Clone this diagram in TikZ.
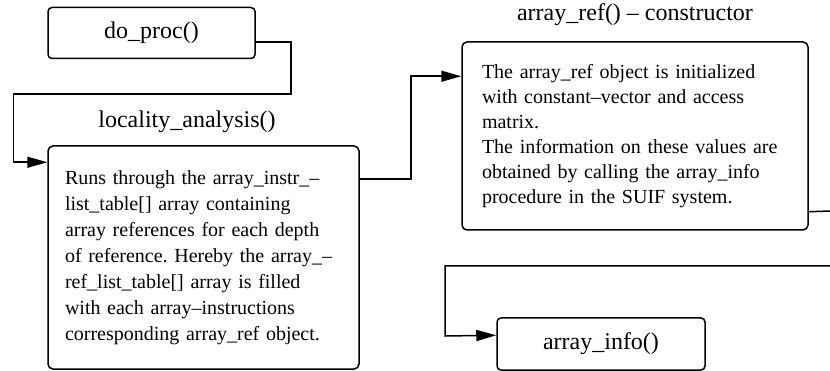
\documentclass[tikz,border=0pt]{standalone}
\usepackage{fontspec}
\setmainfont{Liberation Serif}
\usetikzlibrary{arrows.meta,positioning}
\frenchspacing

\begin{document}
\begin{tikzpicture}[
    x=1pt, y=-1pt,
    proc/.style={rectangle, draw, line width=1.5pt, rounded corners=4pt, align=center, font=\fontsize{24}{28}\selectfont, minimum width=207pt, minimum height=51pt},
    note/.style={rectangle, draw, line width=1.5pt, rounded corners=5pt, align=left, font=\fontsize{20}{25}\selectfont},
    title/.style={font=\fontsize{24}{28}\selectfont, inner sep=0pt},
    conn/.style={-{Triangle[length=20pt,width=11pt]}, line width=1.5pt},
    link/.style={line width=1.5pt}
]
    \useasboundingbox (0,0) rectangle (830,371);

    \node[proc] (doproc) at (151.5,33) {do\_proc()};
    \node[title] (loctitle) at (187,122) {locality\_analysis()};
    \node[note, font=\fontsize{20}{26}\selectfont, text width=277pt, inner xsep=17pt, minimum height=223pt] (loc) at (203.5,257.5) {Runs through the array\_instr\_--\\
list\_table[] array containing\\
array references for each depth\\
of reference. Hereby the array\_--\\
ref\_list\_table[] array is filled\\
with each array--instructions\\
corresponding array\_ref object.};
    \node[note, text width=306pt, inner xsep=20pt, minimum height=188pt] (ref) at (635,136) {The array\_ref object is initialized\\
with constant--vector and access\\
matrix.\\
The information on these values are\\
obtained by calling the array\_info\\
procedure in the SUIF system.};
    \node[title] (reftitle) at (635,15) {array\_ref() -- constructor};
    \node[proc, minimum width=208pt, minimum height=52pt] (info) at (601,344) {array\_info()};

    % connectors running off the right edge
    \coordinate (outA) at (830,211);
    \coordinate (outB) at (830,266);

    \draw[conn] ([yshift=-9pt]doproc.east) -| ++(35,52) -| ([xshift=-34pt,yshift=-17pt]loc.north west) -- ([yshift=-17pt]loc.north west);
    \draw[conn] ([yshift=-34pt]loc.north east) -| ++(51,-103) -- ([yshift=-35pt]ref.north west);
    \draw[link] ([yshift=19pt]ref.south east) -- (outA);
    \draw[conn] (outB) -| ++(-385,70) -- ([yshift=-18pt]info.north west);
\end{tikzpicture}
\end{document}
